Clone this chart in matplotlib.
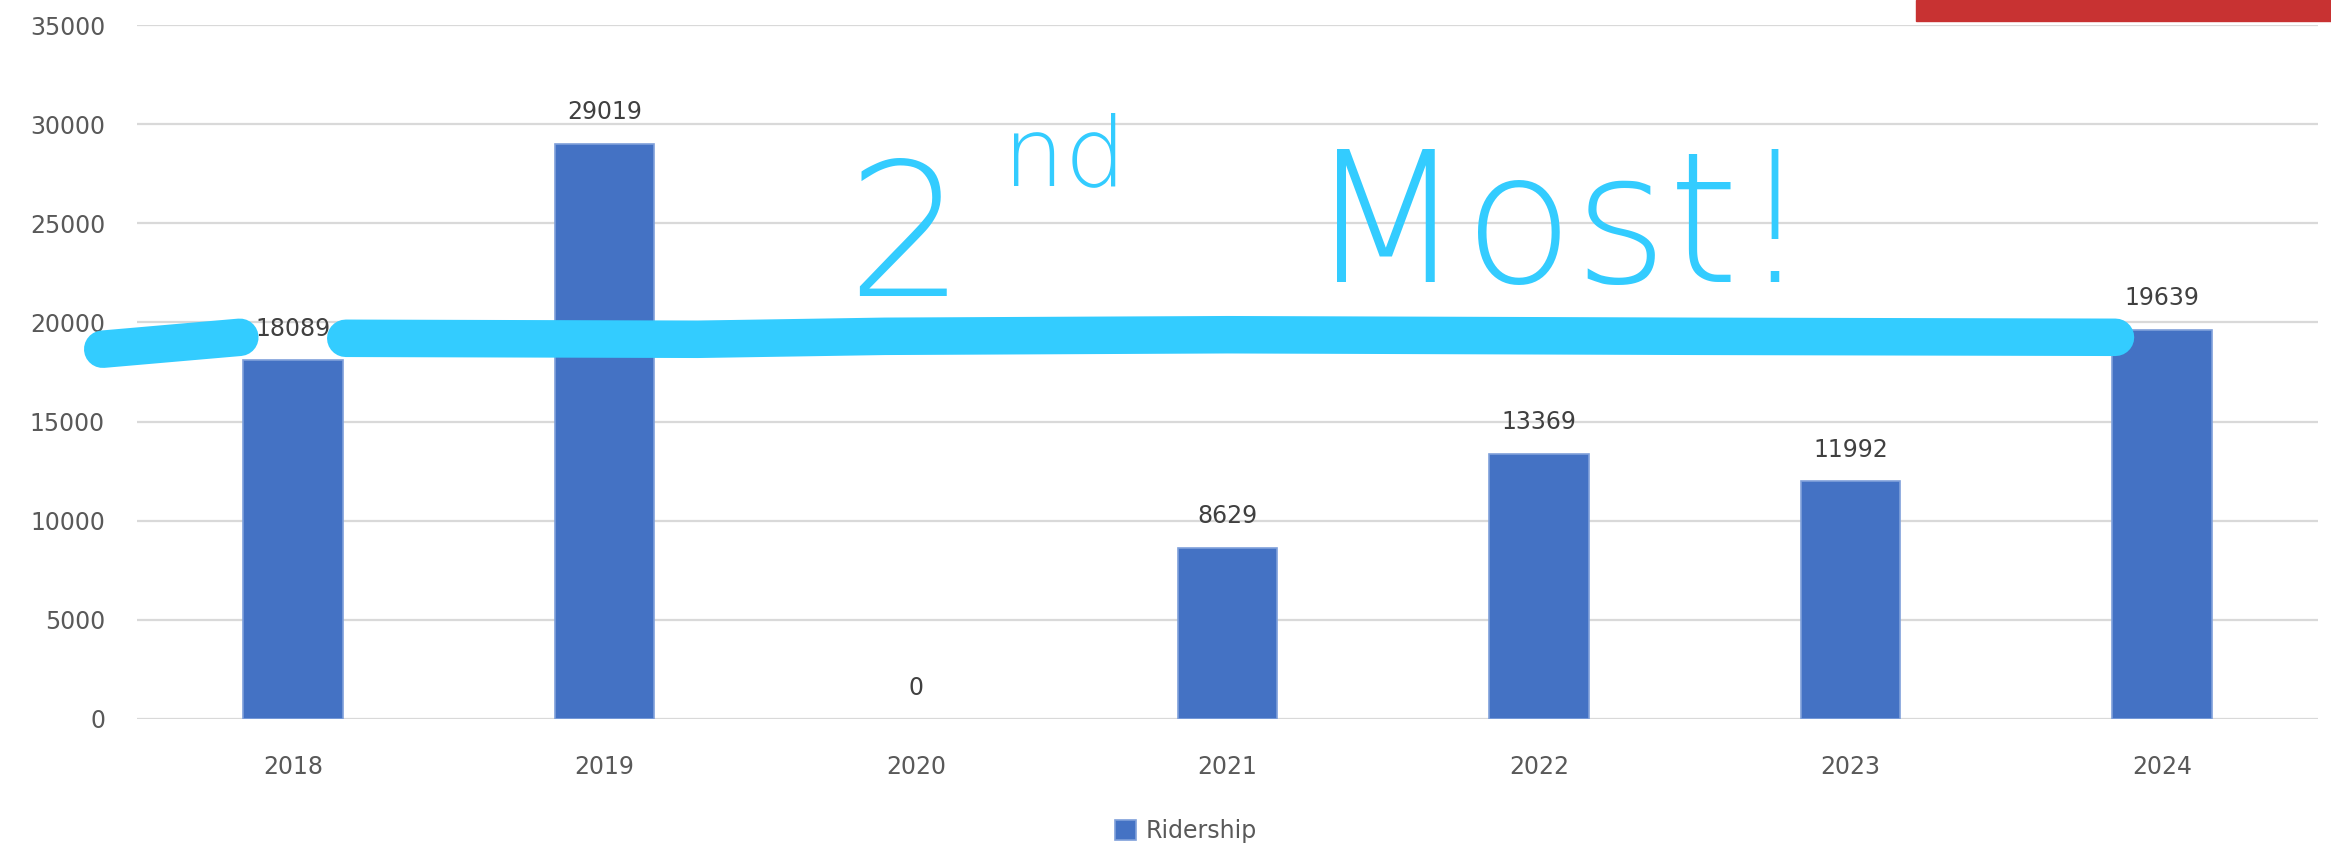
import matplotlib.pyplot as plt
from matplotlib.patches import Rectangle

years = ['2018', '2019', '2020', '2021', '2022', '2023', '2024']
ridership = [18089, 29019, 0, 8629, 13369, 11992, 19639]
yticks = [0, 5000, 10000, 15000, 20000, 25000, 30000, 35000]

# hand drawn marker line (data coords: category index, ridership)
stroke_left_x = [-0.61, -0.17]
stroke_left_y = [18650, 19250]
stroke_main_x = [0.17, 1.3, 1.9, 3.0, 4.5, 5.85]
stroke_main_y = [19200, 19150, 19300, 19380, 19300, 19250]

W, H = 2331, 851
fig = plt.figure(figsize=(W / 100, H / 100), dpi=100)
ax = fig.add_axes([137 / W, 1 - 719 / H, (2318 - 137) / W, (719 - 25) / H])

bars = ax.bar(years, ridership, width=0.32, color='#4472C4',
              edgecolor='#7FA0DA', linewidth=1.2, label='Ridership', zorder=2)
for b, v in zip(bars, ridership):
    if v == 0:
        b.set_linewidth(0)
ax.bar_label(bars, labels=[str(v) for v in ridership], padding=14,
             fontsize=17, color='#404040')

ax.set_xlim(-0.5, 6.5)
ax.set_ylim(0, 35000)
ax.set_yticks(yticks)
ax.set_yticklabels([str(t) for t in yticks])
ax.grid(axis='y', color='#D9D9D9', linewidth=1.6, zorder=0)
ax.set_axisbelow(True)
for s in ax.spines.values():
    s.set_visible(False)
ax.tick_params(axis='y', length=0, pad=23, labelsize=17, labelcolor='#595959')
ax.tick_params(axis='x', length=0, pad=26, labelsize=17, labelcolor='#595959')

# legend
leg = fig.legend(loc='center', bbox_to_anchor=(1186 / W, 1 - 831 / H),
                 frameon=False, fontsize=17, handlelength=0.9,
                 handleheight=0.9, handletextpad=0.4)
for t in leg.get_texts():
    t.set_color('#595959')

# the scribbled highlight
blue = '#33CCFF'
ax.plot(stroke_left_x, stroke_left_y, color=blue, lw=27,
        solid_capstyle='round', clip_on=False, zorder=3)
ax.plot(stroke_main_x, stroke_main_y, color=blue, lw=27,
        solid_capstyle='round', solid_joinstyle='round', clip_on=False, zorder=3)

fig.text(905 / W, 1 - 296 / H, '2', fontsize=134, color=blue,
         ha='center', va='baseline', fontweight='light')
fig.text(1065 / W, 1 - 185 / H, 'nd', fontsize=70, color=blue,
         ha='center', va='baseline', fontweight='light')
fig.text(1560 / W, 1 - 282 / H, 'Most!', fontsize=130, color=blue,
         ha='center', va='baseline', fontweight='light')

# red bar cut off at top right
fig.patches.append(Rectangle((1916 / W, 1 - 21 / H), 1 - 1916 / W, 21 / H,
                             transform=fig.transFigure, color='#C83232',
                             zorder=5))

fig.savefig('out.png', dpi=100)
